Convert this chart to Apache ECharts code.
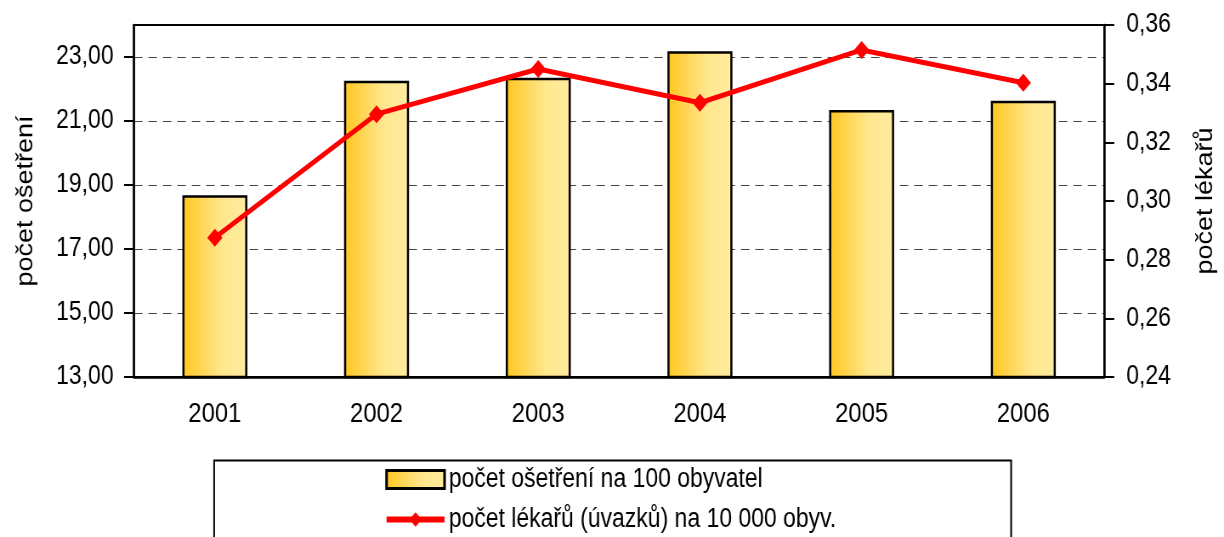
<!DOCTYPE html>
<html>
<head>
<meta charset="utf-8">
<script src="https://cdn.jsdelivr.net/npm/echarts@6/dist/echarts.min.js"></script>
<style>
  html, body { margin: 0; padding: 0; background: #fff; overflow: hidden; }
  #wrap { width: 1224px; height: 537px; overflow: hidden; }
  /* the source chart uses a narrow face; draw wider and squeeze horizontally */
  #chart { width: 1440px; height: 537px; transform: scaleX(0.85); transform-origin: 0 0; }
</style>
</head>
<body>
<div id="wrap"><div id="chart"></div></div>
<script>
// data
var years = ['2001', '2002', '2003', '2004', '2005', '2006'];
var osetreni = [18.68, 22.26, 22.35, 23.18, 21.34, 21.63];   // počet ošetření na 100 obyvatel
var lekaru = [0.2875, 0.3296, 0.3450, 0.3335, 0.3515, 0.3403]; // počet lékařů na 10 000 obyv.
var leftTicks = [13, 15, 17, 19, 21, 23];

var barName = 'počet ošetření na 100 obyvatel';
var lineName = 'počet lékařů (úvazků) na 10 000 obyv.';

var font = '"Liberation Sans", Arial, sans-serif';
var sx = 0.85; // horizontal squeeze of #chart, screen px -> chart px is /sx

function comma(v, d) {
    return v.toFixed(d).replace('.', ',');
}

var myChart = echarts.init(document.getElementById('chart'));

var barFill = new echarts.graphic.LinearGradient(0, 0, 1, 0, [
    { offset: 0, color: '#FFC61E' },
    { offset: 0.6, color: '#FFE78E' },
    { offset: 1, color: '#FFEC9E' }
]);

var option = {
    backgroundColor: '#fff',
    animation: false,
    textStyle: { fontFamily: font },
    grid: {
        left: 134 / sx,
        right: 114 / sx,
        top: 25,
        bottom: 160,
        show: true,
        borderColor: '#000',
        borderWidth: 2
    },
    legend: {
        orient: 'vertical',
        left: 384 / sx,
        top: 466,
        padding: 0,
        itemWidth: 58 / sx,
        itemHeight: 18,
        itemGap: 13,
        textStyle: { fontSize: 27, lineHeight: 27, color: '#000', fontFamily: font },
        data: [
            { name: barName, icon: 'rect', itemStyle: { borderColor: '#000', borderWidth: 3 } },
            { name: lineName, lineStyle: { width: 6, color: '#FF0000' } }
        ]
    },
    graphic: [{
        type: 'rect',
        left: 212 / sx,
        top: 458,
        shape: { width: 797 / sx, height: 120 },
        style: { fill: 'none', stroke: '#000', lineWidth: 2 },
        z: -1
    }],
    xAxis: {
        type: 'category',
        data: years,
        axisLine: { lineStyle: { color: '#000', width: 2.5 } },
        axisTick: { length: 8, lineStyle: { color: '#000', width: 2.5 } },
        axisLabel: { fontSize: 28, color: '#000', margin: 23 }
    },
    yAxis: [{
        type: 'value',
        min: 13,
        max: 24,
        interval: 2,
        position: 'left',
        name: 'počet ošetření',
        nameLocation: 'middle',
        nameRotate: 90,
        nameGap: 114,
        nameTextStyle: { fontSize: 27, color: '#000' },
        axisLine: { show: true, lineStyle: { color: '#000', width: 2.5 } },
        axisTick: { show: true, length: 10 / sx, customValues: leftTicks, lineStyle: { color: '#000', width: 2 } },
        axisLabel: {
            fontSize: 27, color: '#000', margin: 24,
            customValues: leftTicks,
            formatter: function (v) { return comma(v, 2); }
        },
        splitLine: { show: true, lineStyle: { color: '#444', type: [10, 7], width: 1 } }
    }, {
        type: 'value',
        min: 0.24,
        max: 0.36,
        interval: 0.02,
        position: 'right',
        name: 'počet lékařů',
        nameLocation: 'middle',
        nameRotate: 90,
        nameGap: 106,
        nameTextStyle: { fontSize: 27, color: '#000' },
        axisLine: { show: true, lineStyle: { color: '#000', width: 2.5 } },
        axisTick: { show: true, length: 10 / sx, lineStyle: { color: '#000', width: 2 } },
        axisLabel: {
            fontSize: 27, color: '#000', margin: 26,
            formatter: function (v) { return comma(v, 2); }
        },
        splitLine: { show: false }
    }],
    series: [{
        name: barName,
        type: 'bar',
        yAxisIndex: 0,
        barWidth: 65 / sx,
        data: osetreni,
        itemStyle: { color: barFill, borderColor: '#000', borderWidth: 2.5 }
    }, {
        name: lineName,
        type: 'line',
        yAxisIndex: 1,
        data: lekaru,
        symbol: 'diamond',
        symbolSize: 18,
        lineStyle: { color: '#FF0000', width: 5 },
        itemStyle: { color: '#FF0000' },
        z: 5
    }]
};

myChart.setOption(option);
</script>
</body>
</html>
